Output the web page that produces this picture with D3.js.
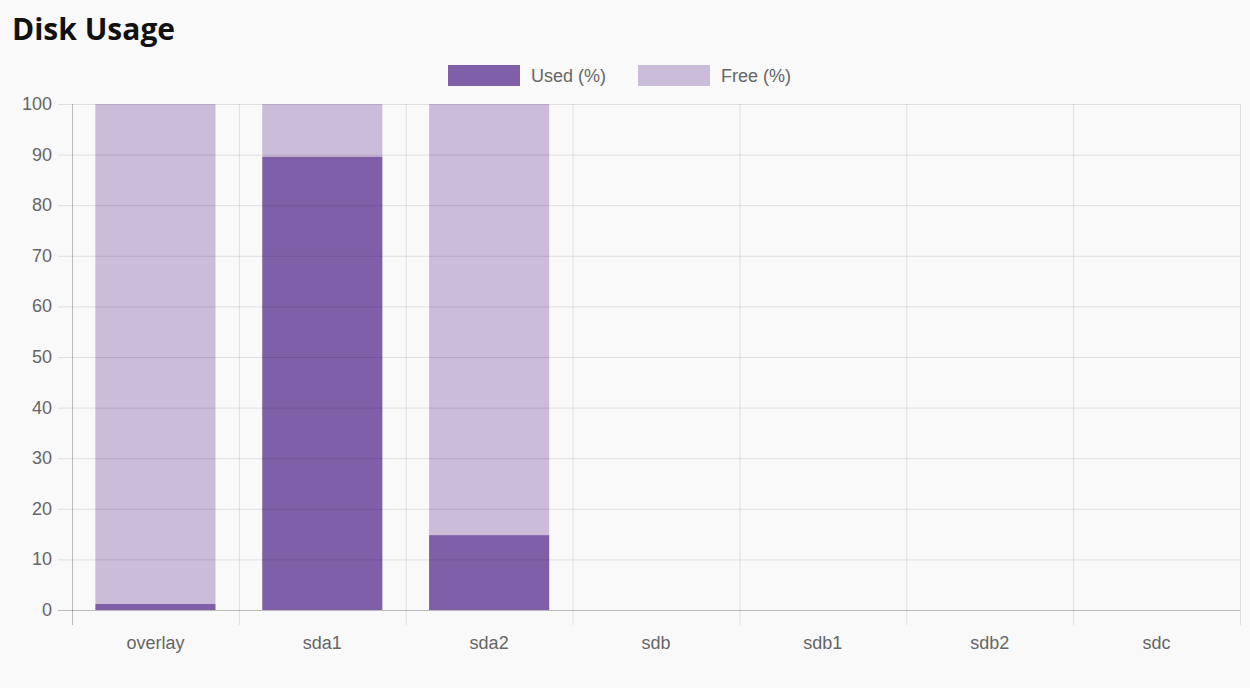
<!DOCTYPE html>
<html>
<head>
<meta charset="utf-8">
<script src="https://cdn.jsdelivr.net/npm/d3@7"></script>
<style>
  body { margin: 0; background: #f9f9f9; }
  svg { display: block; }
</style>
</head>
<body>
<svg id="chart" width="1250" height="688"></svg>
<script>
// disk names and usage percentages
const disks = ['overlay', 'sda1', 'sda2', 'sdb', 'sdb1', 'sdb2', 'sdc'];
const usedPct = [1.2, 89.6, 14.8, 0, 0, 0, 0];
const freePct = [98.8, 10.4, 85.2, 0, 0, 0, 0];
const yTicks = [0, 10, 20, 30, 40, 50, 60, 70, 80, 90, 100];

const svg = d3.select('#chart');
const font = 'Helvetica, Arial, "Liberation Sans", sans-serif';

svg.append('text')
  .attr('x', 12).attr('y', 40)
  .attr('font-family', '"Open Sans", sans-serif')
  .attr('font-weight', 700).attr('font-size', 30)
  .attr('fill', '#111')
  .text('Disk Usage');

const x = d3.scaleBand().domain(disks).range([72, 1240]).paddingInner(0).paddingOuter(0);
const y = d3.scaleLinear().domain([0, 100]).range([610, 104]);
const barW = x.bandwidth() * 0.72;

const stacked = disks.map((d, i) => ({ disk: d, used: usedPct[i], free: freePct[i] }));

// bars
const g = svg.append('g');
g.selectAll('rect.free').data(stacked).join('rect')
  .attr('x', d => x(d.disk) + (x.bandwidth() - barW) / 2)
  .attr('width', barW)
  .attr('y', d => y(d.used + d.free))
  .attr('height', d => y(d.used) - y(d.used + d.free))
  .attr('fill', '#cbbcda');
g.selectAll('rect.used').data(stacked).join('rect')
  .attr('x', d => x(d.disk) + (x.bandwidth() - barW) / 2)
  .attr('width', barW)
  .attr('y', d => y(d.used))
  .attr('height', d => y(0) - y(d.used))
  .attr('fill', '#7f60a8');

// grid
const grid = svg.append('g');
grid.selectAll('line.h').data(yTicks).join('line')
  .attr('x1', 58).attr('x2', 1240)
  .attr('y1', d => y(d) + 0.5).attr('y2', d => y(d) + 0.5)
  .attr('stroke', d => d === 0 ? 'rgba(0,0,0,0.25)' : 'rgba(0,0,0,0.1)');
const bounds = disks.map(d => x(d)).concat([1240]);
grid.selectAll('line.v').data(bounds).join('line')
  .attr('x1', d => d + 0.5).attr('x2', d => d + 0.5)
  .attr('y1', 104).attr('y2', 625)
  .attr('stroke', (d, i) => i === 0 ? 'rgba(0,0,0,0.25)' : 'rgba(0,0,0,0.1)');

// y labels
svg.append('g').selectAll('text').data(yTicks).join('text')
  .attr('x', 52).attr('y', d => y(d) + 6)
  .attr('text-anchor', 'end')
  .attr('font-family', font).attr('font-size', 18).attr('fill', '#666')
  .text(d => d);

// x labels
svg.append('g').selectAll('text').data(disks).join('text')
  .attr('x', d => x(d) + x.bandwidth() / 2).attr('y', 649)
  .attr('text-anchor', 'middle')
  .attr('font-family', font).attr('font-size', 18).attr('fill', '#666')
  .text(d => d);

// legend
const legend = [['Used (%)', '#7f60a8', 448], ['Free (%)', '#cbbcda', 638]];
const lg = svg.append('g').selectAll('g').data(legend).join('g');
lg.append('rect').attr('x', d => d[2]).attr('y', 65).attr('width', 72).attr('height', 21).attr('fill', d => d[1]);
lg.append('text').attr('x', d => d[2] + 83).attr('y', 82)
  .attr('font-family', font).attr('font-size', 18).attr('fill', '#666')
  .text(d => d[0]);
</script>
</body>
</html>
